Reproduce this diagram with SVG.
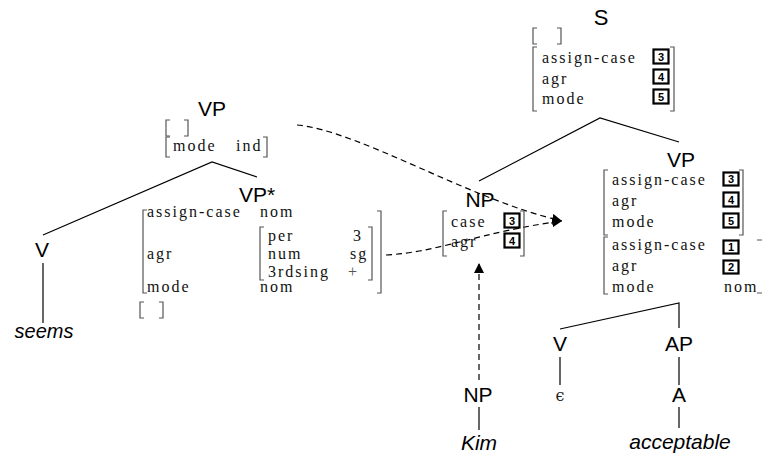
<svg xmlns="http://www.w3.org/2000/svg" width="762" height="457" viewBox="0 0 762 457">
  <defs>
    <marker id="arrow" markerUnits="userSpaceOnUse" markerWidth="11" markerHeight="10" refX="10" refY="5" orient="auto">
      <path d="M0,0 L10,5 L0,10 z" fill="#000"/>
    </marker>
    <style>
      .lab { font-family: "Liberation Sans", Arial, sans-serif; font-size: 21px; fill: #000; text-anchor: middle; }
      .word { font-family: "Liberation Sans", Arial, sans-serif; font-size: 21px; font-style: italic; fill: #000; text-anchor: middle; }
      .ft { font-family: "Liberation Serif", "Times New Roman", serif; font-size: 16px; letter-spacing: 2px; fill: #111; }
      .eps { font-family: "DejaVu Serif", "Liberation Serif", serif; font-size: 16px; fill: #222; text-anchor: middle; }
      .br { fill: none; stroke: #555; stroke-width: 1.2; }
      .edge { fill: none; stroke: #000; stroke-width: 1.2; }
      .dash { fill: none; stroke: #000; stroke-width: 1.2; stroke-dasharray: 6 4; }
      .tag rect { fill: #fff; stroke: #000; stroke-width: 2.2; }
      .tag text { font-family: "Liberation Sans", Arial, sans-serif; font-weight: bold; font-size: 11px; fill: #000; text-anchor: middle; }
    </style>
  </defs>
  <rect width="762" height="457" fill="#fff"/>

  <!-- tree edges and dashed links -->
  <g id="connectors">
    <path class="edge" d="M43,235 L212,162 L257,177"/>
    <path class="edge" d="M43,263 V323"/>
    <path class="edge" d="M479,181 L600,118 L679,142"/>
    <path class="edge" d="M560,329 L679,303 V328"/>
    <path class="edge" d="M560,357 V385"/>
    <path class="edge" d="M679,357 V385"/>
    <path class="edge" d="M679,407 V428"/>
    <path class="edge" d="M479,407 V430"/>
    <path class="dash" d="M297,125 C360,131 470,200 562,221" marker-end="url(#arrow)"/>
    <path class="dash" d="M386,255 C440,252 480,232 562,221" marker-end="url(#arrow)"/>
    <path class="dash" d="M479,380 V263" marker-end="url(#arrow)"/>
  </g>

  <!-- S root -->
  <g id="node-S">
    <text class="lab" x="601" y="25" style="font-size:22px">S</text>
    <path class="br" d="M537,28 H533 V44 H537 M557,28 H561 V44 H557"/>
    <path class="br" d="M537,47 H533 V111 H537 M670,47 H674 V111 H670"/>
    <text class="ft" x="542" y="63">assign-case</text>
    <text class="ft" x="542" y="84">agr</text>
    <text class="ft" x="542" y="104">mode</text>
    <g class="tag"><rect x="653.5" y="49.5" width="15" height="14"/><text x="661" y="60.5">3</text></g>
    <g class="tag"><rect x="653.5" y="69.5" width="15" height="14"/><text x="661" y="80.5">4</text></g>
    <g class="tag"><rect x="653.5" y="89.5" width="15" height="14"/><text x="661" y="100.5">5</text></g>
  </g>

  <!-- auxiliary tree: VP root -->
  <g id="node-VP-aux">
    <text class="lab" x="212" y="116">VP</text>
    <path class="br" d="M170,120 H166 V136 H170 M184,120 H188 V136 H184"/>
    <path class="br" d="M170,137 H166 V157 H170 M263,137 H267 V157 H263"/>
    <text class="ft" x="173" y="151">mode</text>
    <text class="ft" x="236" y="151">ind</text>
  </g>

  <g id="node-V-seems">
    <text class="lab" x="42" y="257">V</text>
  </g>
  <g id="word-seems">
    <text class="word" x="44" y="338" style="font-size:20px">seems</text>
  </g>

  <!-- foot node VP* -->
  <g id="node-VP-foot">
    <text class="lab" x="257" y="202">VP*</text>
    <path class="br" d="M147,210 H143 V293 H147 M377,211 H381 V293 H377"/>
    <text class="ft" x="147" y="217">assign-case</text>
    <text class="ft" x="260" y="217">nom</text>
    <text class="ft" x="147" y="259">agr</text>
    <path class="br" d="M264,227 H260 V280 H264 M368,227 H372 V280 H368"/>
    <text class="ft" x="268" y="241">per</text>
    <text class="ft" x="353" y="241">3</text>
    <text class="ft" x="268" y="259">num</text>
    <text class="ft" x="350" y="259">sg</text>
    <text class="ft" x="268" y="277">3rdsing</text>
    <text class="ft" x="348" y="277" style="fill:#555">+</text>
    <text class="ft" x="147" y="292">mode</text>
    <text class="ft" x="260" y="292">nom</text>
    <path class="br" d="M144,302 H140 V318 H144 M159,302 H163 V318 H159"/>
  </g>

  <!-- substitution node NP -->
  <g id="node-NP-subst">
    <text class="lab" x="480" y="207">NP</text>
    <path class="br" d="M447,211 H443 V256 H447 M520,211 H524 V256 H520"/>
    <text class="ft" x="451" y="227">case</text>
    <text class="ft" x="451" y="247">agr</text>
    <g class="tag"><rect x="504.5" y="213.5" width="15" height="14"/><text x="512" y="224.5">3</text></g>
    <g class="tag"><rect x="504.5" y="233.5" width="15" height="14"/><text x="512" y="244.5">4</text></g>
  </g>

  <g id="node-NP-kim">
    <text class="lab" x="478" y="402">NP</text>
  </g>
  <g id="word-Kim">
    <text class="word" x="479" y="450">Kim</text>
  </g>

  <!-- VP under S -->
  <g id="node-VP-main">
    <text class="lab" x="681" y="167">VP</text>
    <path class="br" d="M608,170 H604 V235 H608 M739,170 H743 V235 H739"/>
    <text class="ft" x="612" y="185">assign-case</text>
    <text class="ft" x="612" y="206">agr</text>
    <text class="ft" x="612" y="227">mode</text>
    <g class="tag"><rect x="723.5" y="172.5" width="15" height="13"/><text x="731" y="183">3</text></g>
    <g class="tag"><rect x="723.5" y="192.5" width="15" height="14"/><text x="731" y="203.5">4</text></g>
    <g class="tag"><rect x="723.5" y="213.5" width="15" height="14"/><text x="731" y="224.5">5</text></g>
    <path class="br" d="M608,237 H604 V294 H608 M757,240 H763 V293 H757"/>
    <text class="ft" x="612" y="250">assign-case</text>
    <text class="ft" x="612" y="271">agr</text>
    <text class="ft" x="612" y="292">mode</text>
    <text class="ft" x="724" y="292">nom</text>
    <g class="tag"><rect x="723.5" y="240.5" width="15" height="13"/><text x="731" y="251">1</text></g>
    <g class="tag"><rect x="723.5" y="260.5" width="15" height="13"/><text x="731" y="271">2</text></g>
  </g>

  <g id="node-V-empty">
    <text class="lab" x="560" y="351">V</text>
  </g>
  <g id="word-epsilon">
    <text class="eps" x="560" y="401">ϵ</text>
  </g>
  <g id="node-AP">
    <text class="lab" x="679" y="351">AP</text>
  </g>
  <g id="node-A">
    <text class="lab" x="679" y="402">A</text>
  </g>
  <g id="word-acceptable">
    <text class="word" x="680" y="449">acceptable</text>
  </g>
</svg>
